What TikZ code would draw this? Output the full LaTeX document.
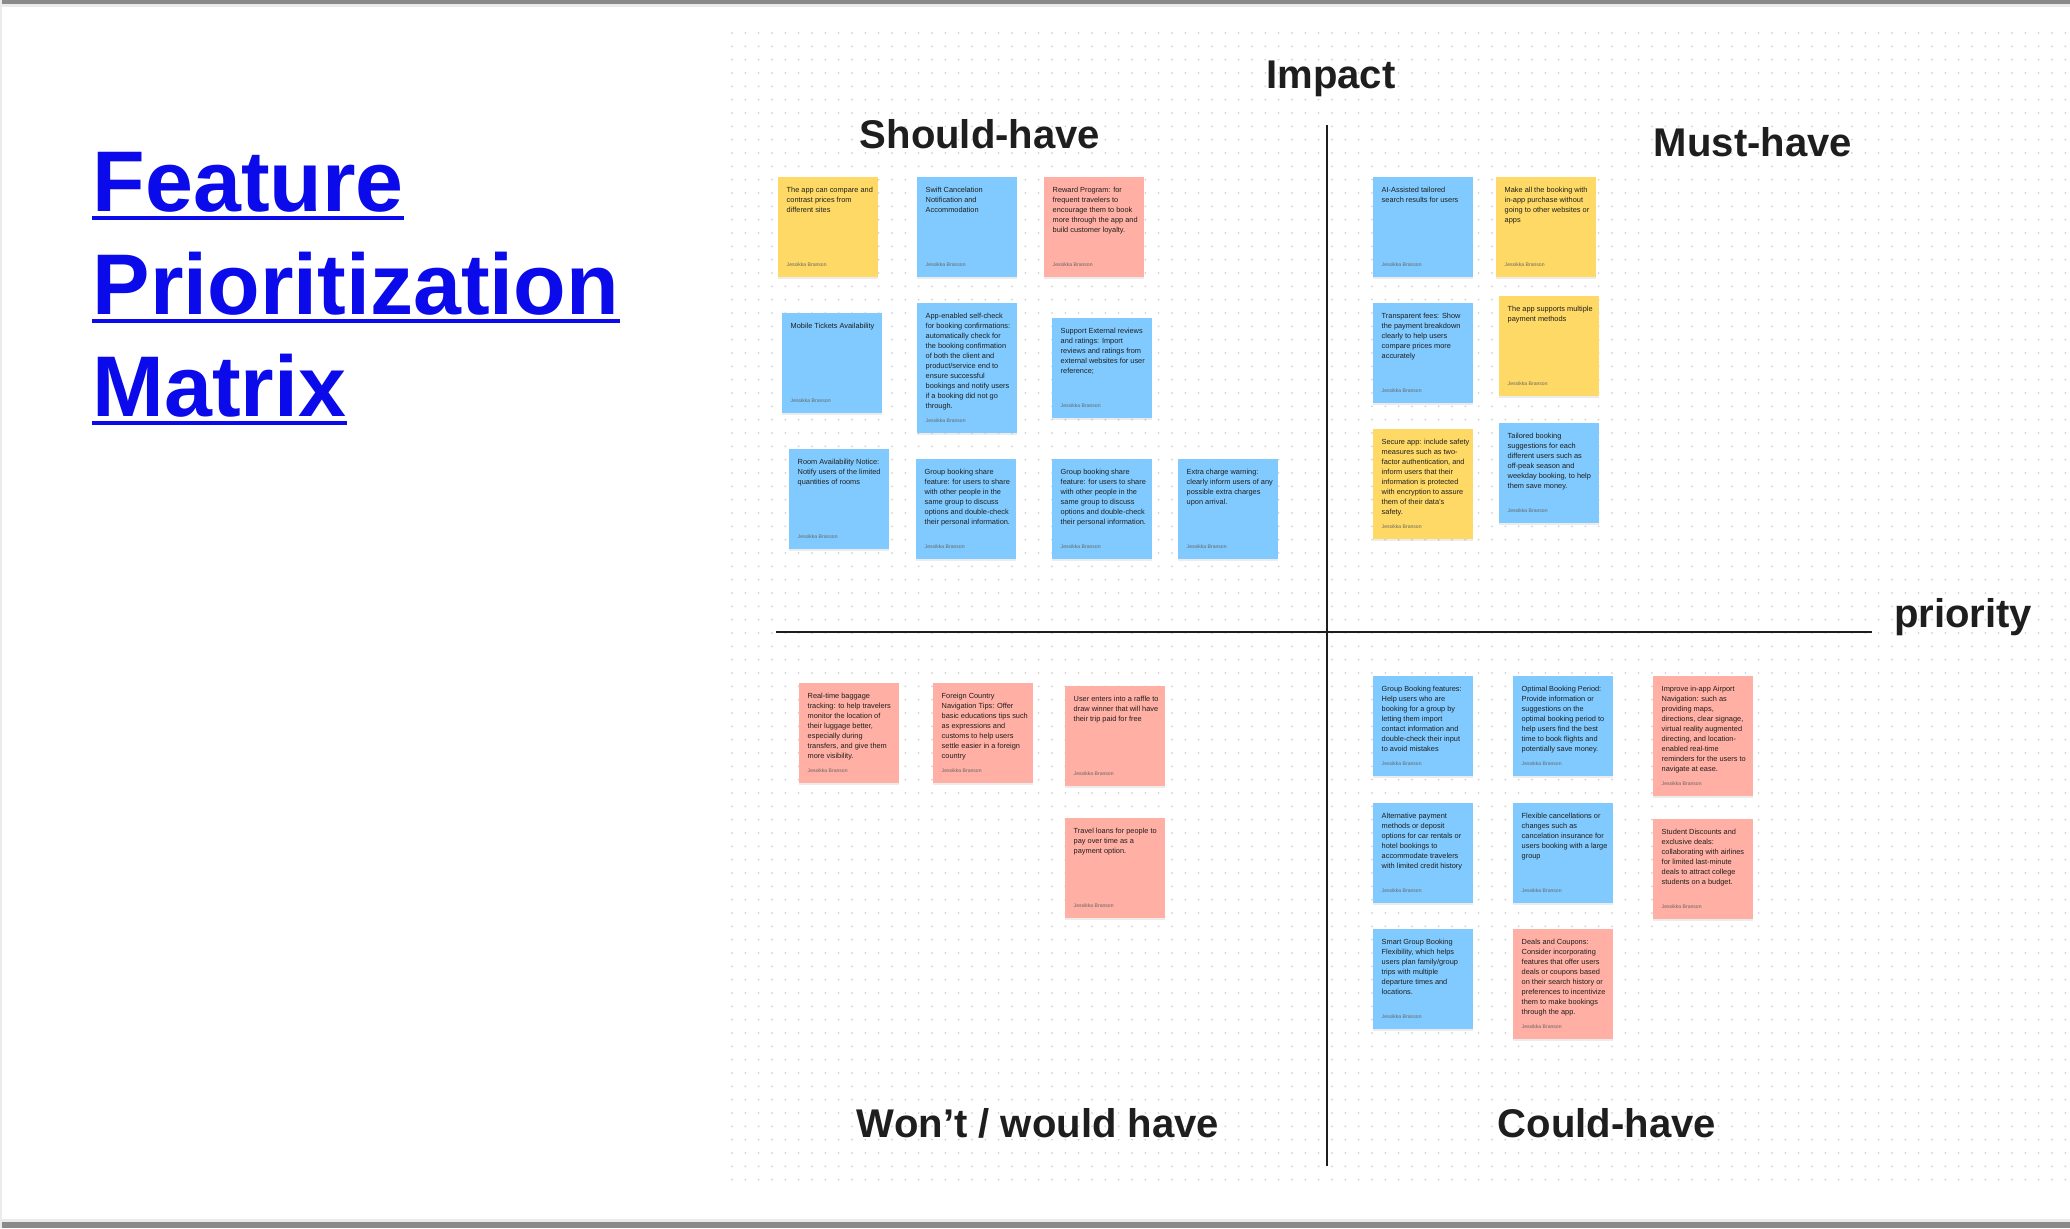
\documentclass[tikz,border=0pt]{standalone}
\usepackage{fontspec}
\setmainfont{Liberation Sans}
\usetikzlibrary{positioning,shadows}
\definecolor{inkdark}{HTML}{1E1E1E}
\definecolor{stickyyellow}{HTML}{FFD966}
\definecolor{stickyblue}{HTML}{80CAFF}
\definecolor{stickyred}{HTML}{FFAFA3}
\definecolor{linkblue}{HTML}{0A0AEB}
\definecolor{griddot}{HTML}{D2D2D2}
\definecolor{framegray}{HTML}{8A8A8A}

\begin{document}
\begin{tikzpicture}[x=0.1mm, y=-0.1mm,
  note/.style={anchor=north west, minimum width=10mm, inner sep=0pt,
    drop shadow={shadow xshift=0mm, shadow yshift=-0.2mm, opacity=0.15}},
  notetext/.style={anchor=north west, inner sep=0pt, align=left, text=inkdark,
    font={\fontsize{2.1pt}{2.85pt}\selectfont}},
  author/.style={anchor=base west, inner sep=0pt, text=black!60,
    font={\fontsize{1.45pt}{1.8pt}\selectfont}},
  heading/.style={anchor=base, inner sep=0pt, text=inkdark,
    font={\fontsize{11.4pt}{13pt}\selectfont\bfseries}},
  titleline/.style={anchor=base west, inner sep=0pt, text=linkblue,
    font={\fontsize{24.5pt}{30pt}\selectfont\bfseries}}]
% one unit is one pixel of the 2070 x 1228 board, y runs downwards
\useasboundingbox (0,0) rectangle (2070,1228);
\fill[white] (0,0) rectangle (2070,1228);
\fill[black!8] (0,0) rectangle (2070,7);
\fill[framegray] (0,0) rectangle (2070,3.5);
\fill[black!8] (0,1219) rectangle (2070,1228);
\fill[framegray] (0,1222) rectangle (2070,1228);
\fill[black!8] (0,0) rectangle (2,1228);

% dot grid of the board
\foreach \r in {0,...,86}{%
  \draw[griddot, line width=0.2mm, line cap=round, dash pattern=on 0mm off 1.3333mm]
    (732,{33+13.3333*\r}) -- (2070,{33+13.3333*\r});}

% title
\node[titleline] (ttl1) at (92,211) {Feature};
\node[titleline] (ttl2) at (92,314) {Prioritization};
\node[titleline] (ttl3) at (92,416) {Matrix};
\foreach \t in {ttl1,ttl2,ttl3}{%
  \draw[linkblue, line width=0.45mm] ([yshift=-0.7mm]\t.base west) -- ([yshift=-0.7mm]\t.base east);}

% axes
\coordinate (vtop) at (1327,125);
\coordinate (vbot) at (1327,1166);
\coordinate (hleft) at (776,632);
\coordinate (hright) at (1872,632);
\draw[inkdark, line width=0.25mm] (vtop) -- (vbot);
\draw[inkdark, line width=0.25mm] (hleft) -- (hright);

% headings
\node[heading] (impact) at (1331,88) {Impact};
\node[heading] (should) at (980,148) {Should-have};
\node[heading] (must) at (1753,156) {Must-have};
\node[heading] (prio) at (1963,627) {priority};
\node[heading] (wont) at (1038,1137) {Won’t / would have};
\node[heading] (could) at (1607,1137) {Could-have};

% sticky notes: name/colour/left/top/height/text
\foreach \n/\c/\x/\y/\h/\txt in {
  sh1/stickyyellow/777/176/100/{The app can compare and\\contrast prices from\\different sites},
  sh2/stickyblue/916/176/100/{Swift Cancelation\\Notification and\\Accommodation},
  sh3/stickyred/1043/176/100/{Reward Program: for\\frequent travelers to\\encourage them to book\\more through the app and\\build customer loyalty.},
  sh4/stickyblue/781/312/100/{Mobile Tickets Availability},
  sh5/stickyblue/916/302/130/{App-enabled self-check\\for booking confirmations:\\automatically check for\\the booking confirmation\\of both the client and\\product/service end to\\ensure successful\\bookings and notify users\\if a booking did not go\\through.},
  sh6/stickyblue/1051/317/100/{Support External reviews\\and ratings: Import\\reviews and ratings from\\external websites for user\\reference;},
  sh7/stickyblue/788/448/100/{Room Availability Notice:\\Notify users of the limited\\quantities of rooms},
  sh8/stickyblue/915/458/100/{Group booking share\\feature: for users to share\\with other people in the\\same group to discuss\\options and double-check\\their personal information.},
  sh9/stickyblue/1051/458/100/{Group booking share\\feature: for users to share\\with other people in the\\same group to discuss\\options and double-check\\their personal information.},
  sh10/stickyblue/1177/458/100/{Extra charge warning:\\clearly inform users of any\\possible extra charges\\upon arrival.},
  mh1/stickyblue/1372/176/100/{AI-Assisted tailored\\search results for users},
  mh2/stickyyellow/1495/176/100/{Make all the booking with\\in-app purchase without\\going to other websites or\\apps},
  mh3/stickyblue/1372/302/100/{Transparent fees: Show\\the payment breakdown\\clearly to help users\\compare prices more\\accurately},
  mh4/stickyyellow/1498/295/100/{The app supports multiple\\payment methods},
  mh5/stickyyellow/1372/428/110/{Secure app: include safety\\measures such as two-\\factor authentication, and\\inform users that their\\information is protected\\with encryption to assure\\them of their data’s\\safety.},
  mh6/stickyblue/1498/422/100/{Tailored booking\\suggestions for each\\different users such as\\off-peak season and\\weekday booking, to help\\them save money.},
  wh1/stickyred/798/682/100/{Real-time baggage\\tracking: to help travelers\\monitor the location of\\their luggage better,\\especially during\\transfers, and give them\\more visibility.},
  wh2/stickyred/932/682/100/{Foreign Country\\Navigation Tips: Offer\\basic educations tips such\\as expressions and\\customs to help users\\settle easier in a foreign\\country},
  wh3/stickyred/1064/685/100/{User enters into a raffle to\\draw winner that will have\\their trip paid for free},
  wh4/stickyred/1064/817/100/{Travel loans for people to\\pay over time as a\\payment option.},
  ch1/stickyblue/1372/675/100/{Group Booking features:\\Help users who are\\booking for a group by\\letting them import\\contact information and\\double-check their input\\to avoid mistakes},
  ch2/stickyblue/1512/675/100/{Optimal Booking Period:\\Provide information or\\suggestions on the\\optimal booking period to\\help users find the best\\time to book flights and\\potentially save money.},
  ch3/stickyred/1652/675/120/{Improve in-app Airport\\Navigation: such as\\providing maps,\\directions, clear signage,\\virtual reality augmented\\directing, and location-\\enabled real-time\\reminders for the users to\\navigate at ease.},
  ch4/stickyblue/1372/802/100/{Alternative payment\\methods or deposit\\options for car rentals or\\hotel bookings to\\accommodate travelers\\with limited credit history},
  ch5/stickyblue/1512/802/100/{Flexible cancellations or\\changes such as\\cancelation insurance for\\users booking with a large\\group},
  ch6/stickyred/1652/818/100/{Student Discounts and\\exclusive deals:\\collaborating with airlines\\for limited last-minute\\deals to attract college\\students on a budget.},
  ch7/stickyblue/1372/928/100/{Smart Group Booking\\Flexibility, which helps\\users plan family/group\\trips with multiple\\departure times and\\locations.},
  ch8/stickyred/1512/928/110/{Deals and Coupons:\\Consider incorporating\\features that offer users\\deals or coupons based\\on their search history or\\preferences to incentivize\\them to make bookings\\through the app.}}{%
  \node[note, fill=\c, minimum height=\h*0.1mm] (\n) at (\x,\y) {};
  \node[notetext] (\n-txt) at ([xshift=0.9mm, yshift=-1.0mm]\n.north west) {\txt};
  \node[author] (\n-by) at ([xshift=0.9mm, yshift=1.1mm]\n.south west) {Jessikka Branson};}
\end{tikzpicture}
\end{document}
